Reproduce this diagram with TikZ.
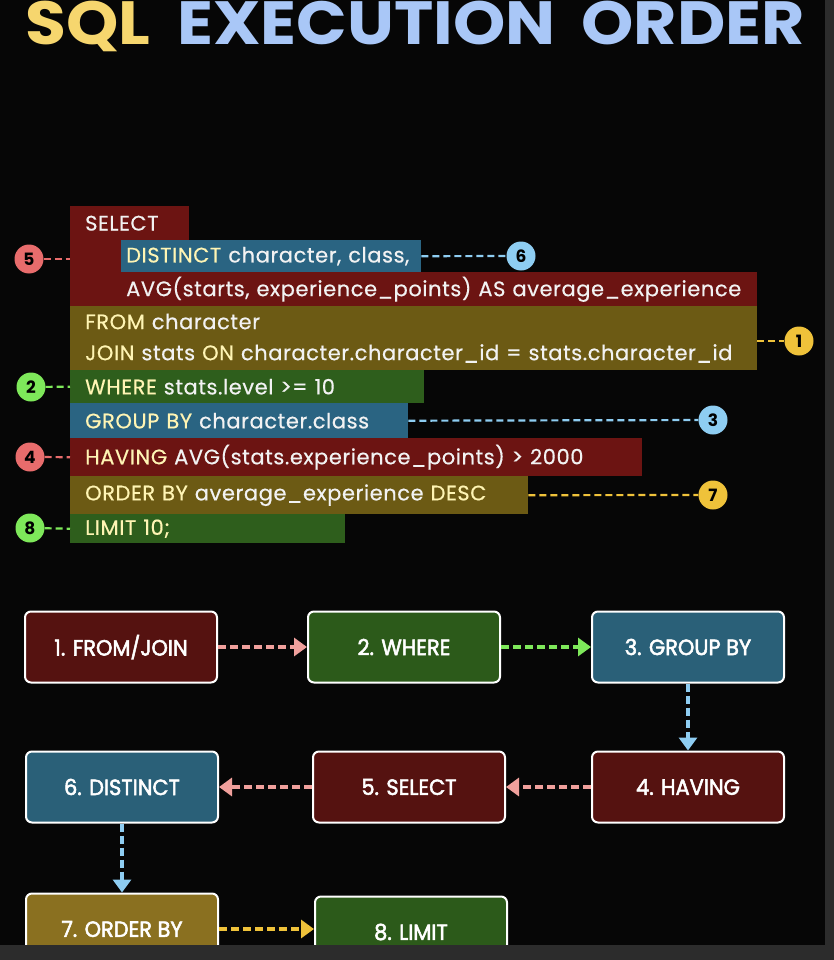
\documentclass[tikz,border=0pt]{standalone}
\usepackage{fontspec}
\setmainfont{Poppins}
\newfontfamily\codefamily{Poppins}[LetterSpace=2.7, FakeBold=0.5]
\newfontfamily\stagefamily{Poppins}[FakeBold=2.5]
\usepackage{graphicx}
\usetikzlibrary{arrows.meta,positioning}

\definecolor{bgc}{HTML}{060606}
\definecolor{stripc}{HTML}{2C2C2C}
\definecolor{titley}{HTML}{F6D66E}
\definecolor{titleb}{HTML}{A9C7F7}
\definecolor{codered}{HTML}{6C1412}
\definecolor{codeolive}{HTML}{6C5A14}
\definecolor{codegreen}{HTML}{2E5E1C}
\definecolor{codeblue}{HTML}{2A6482}
\definecolor{codewhite}{HTML}{F2F2F2}
\definecolor{kwcol}{HTML}{FFF5B4}
\definecolor{bred}{HTML}{E86C6C}
\definecolor{bblue}{HTML}{8ECDF2}
\definecolor{byellow}{HTML}{EFC23A}
\definecolor{bgreen}{HTML}{7EE85A}
\definecolor{bpink}{HTML}{F0A09C}
\definecolor{boxred}{HTML}{551210}
\definecolor{boxgreen}{HTML}{2C5A1A}
\definecolor{boxblue}{HTML}{2A6078}
\definecolor{boxolive}{HTML}{8A7020}

\newcommand{\kw}[1]{\textcolor{kwcol}{#1}}
\newcommand{\stg}[1]{\scalebox{0.95}[1]{#1}}

\begin{document}
\begin{tikzpicture}[x=1pt,y=-1pt]
\tikzset{bar/.style={anchor=north west, inner ysep=0pt, inner xsep=15pt, align=left,
  font=\codefamily\fontsize{21}{31}\selectfont, text=codewhite}}
\tikzset{badge/.style={circle, inner sep=0pt, minimum size=29pt, text=black,
  font=\fontsize{17}{17}\selectfont\bfseries}}
\tikzset{tie/.style={line width=2.2pt, dash pattern=on 7pt off 4pt}}
\tikzset{stage/.style={draw=white, line width=2pt, rounded corners=6pt, minimum width=192pt,
  minimum height=71pt, text=white, font=\stagefamily\fontsize{22}{22}\selectfont}}
\tikzset{flow/.style={line width=4pt, dash pattern=on 8pt off 4pt,
  -{Triangle[length=13pt,width=18pt]}}}

\useasboundingbox (0,0) rectangle (834,960);
\fill[bgc] (0,0) rectangle (834,960);

\node[anchor=base west, inner sep=0pt, font=\fontsize{61}{61}\selectfont\bfseries] (title) at (25,45)
  {\scalebox{1.09}[1]{\textcolor{titley}{SQL}\hspace{12pt} \textcolor{titleb}{EXECUTION\hspace{11pt} ORDER}}};

% query
\node[bar, fill=codered, minimum height=34pt, text width=89pt] (sel) at (70,206) {SELECT};
\node[bar, fill=codered, minimum height=66pt, minimum width=51pt, inner xsep=0pt] (selpad) at (70,240) {};
\node[bar, fill=codeblue, minimum height=32pt, text width=290pt, inner xsep=5pt] (dist) at (121,240)
  {\mbox{\kw{DISTINCT} character, class,}};
\node[bar, fill=codered, minimum height=34pt, text width=626pt, inner xsep=5pt] (avg) at (121,272)
  {\mbox{AVG(starts, experience\_points) AS average\_experience}};
\node[bar, fill=codeolive, minimum height=64pt, text width=657pt] (from) at (70,306)
  {\kw{FROM} character\\\mbox{\kw{JOIN} stats \kw{ON} character.character\_id = stats.character\_id}};
\node[bar, fill=codegreen, minimum height=33pt, text width=324pt] (where) at (70,370)
  {\mbox{\kw{WHERE} stats.level >= 10}};
\node[bar, fill=codeblue, minimum height=35pt, text width=308pt] (group) at (70,403)
  {\mbox{\kw{GROUP BY} character.class}};
\node[bar, fill=codered, minimum height=38pt, text width=542pt] (having) at (70,438)
  {\mbox{\kw{HAVING} AVG(stats.experience\_points) > 2000}};
\node[bar, fill=codeolive, minimum height=38pt, text width=428pt] (order) at (70,476)
  {\mbox{\kw{ORDER BY} average\_experience \kw{DESC}}};
\node[bar, fill=codegreen, minimum height=29pt, text width=245pt] (limit) at (70,514)
  {\kw{LIMIT 10;}};

\node[badge, fill=bred] (b5) at (29,259) {5};
\node[badge, fill=bblue] (b6) at (521,256) {6};
\node[badge, fill=byellow] (b1) at (799,341) {1};
\node[badge, fill=bgreen] (b2) at (31,387) {2};
\node[badge, fill=bblue] (b3) at (713,420) {3};
\node[badge, fill=bred] (b4) at (30,457) {4};
\node[badge, fill=byellow] (b7) at (713,495) {7};
\node[badge, fill=bgreen] (b8) at (30,528) {8};

\draw[tie, bred] (b5) -- (b5 -| selpad.west);
\draw[tie, bblue] (dist.east) -- (b6);
\draw[tie, byellow] (from.east |- b1) -- (b1);
\draw[tie, bgreen] (b2) -- (where.west);
\draw[tie, bblue] (group.east) -- (b3);
\draw[tie, bred] (b4) -- (having.west);
\draw[tie, byellow] (order.east) -- (b7);
\draw[tie, bgreen] (b8) -- (limit.west);

% order of execution
\node[stage, fill=boxred] (st1) at (121,647) {\stg{1. FROM/JOIN}};
\node[stage, fill=boxgreen, right=89pt of st1] (st2) {\stg{2. WHERE}};
\node[stage, fill=boxblue, right=90pt of st2] (st3) {\stg{3. GROUP BY}};
\node[stage, fill=boxred, below=67pt of st3] (st4) {\stg{4. HAVING}};
\node[stage, fill=boxred, left=85pt of st4] (st5) {\stg{5. SELECT}};
\node[stage, fill=boxblue, left=93pt of st5] (st6) {\stg{6. DISTINCT}};
\node[stage, fill=boxolive, below=69pt of st6] (st7) {\stg{7. ORDER BY}};
\node[stage, fill=boxgreen, right=95pt of st7, yshift=-3pt] (st8) {\stg{8. LIMIT}};

\draw[flow, bpink] (st1) -- (st2);
\draw[flow, bgreen] (st2) -- (st3);
\draw[flow, bblue] (st3) -- (st4);
\draw[flow, bpink] (st4) -- (st5);
\draw[flow, bpink] (st5) -- (st6);
\draw[flow, bblue] (st6) -- (st7);
\draw[flow, byellow] (st7) -- (st7 -| st8.west);

\fill[stripc] (825,0) rectangle (834,960);
\fill[stripc] (0,945) rectangle (834,960);
\end{tikzpicture}
\end{document}
